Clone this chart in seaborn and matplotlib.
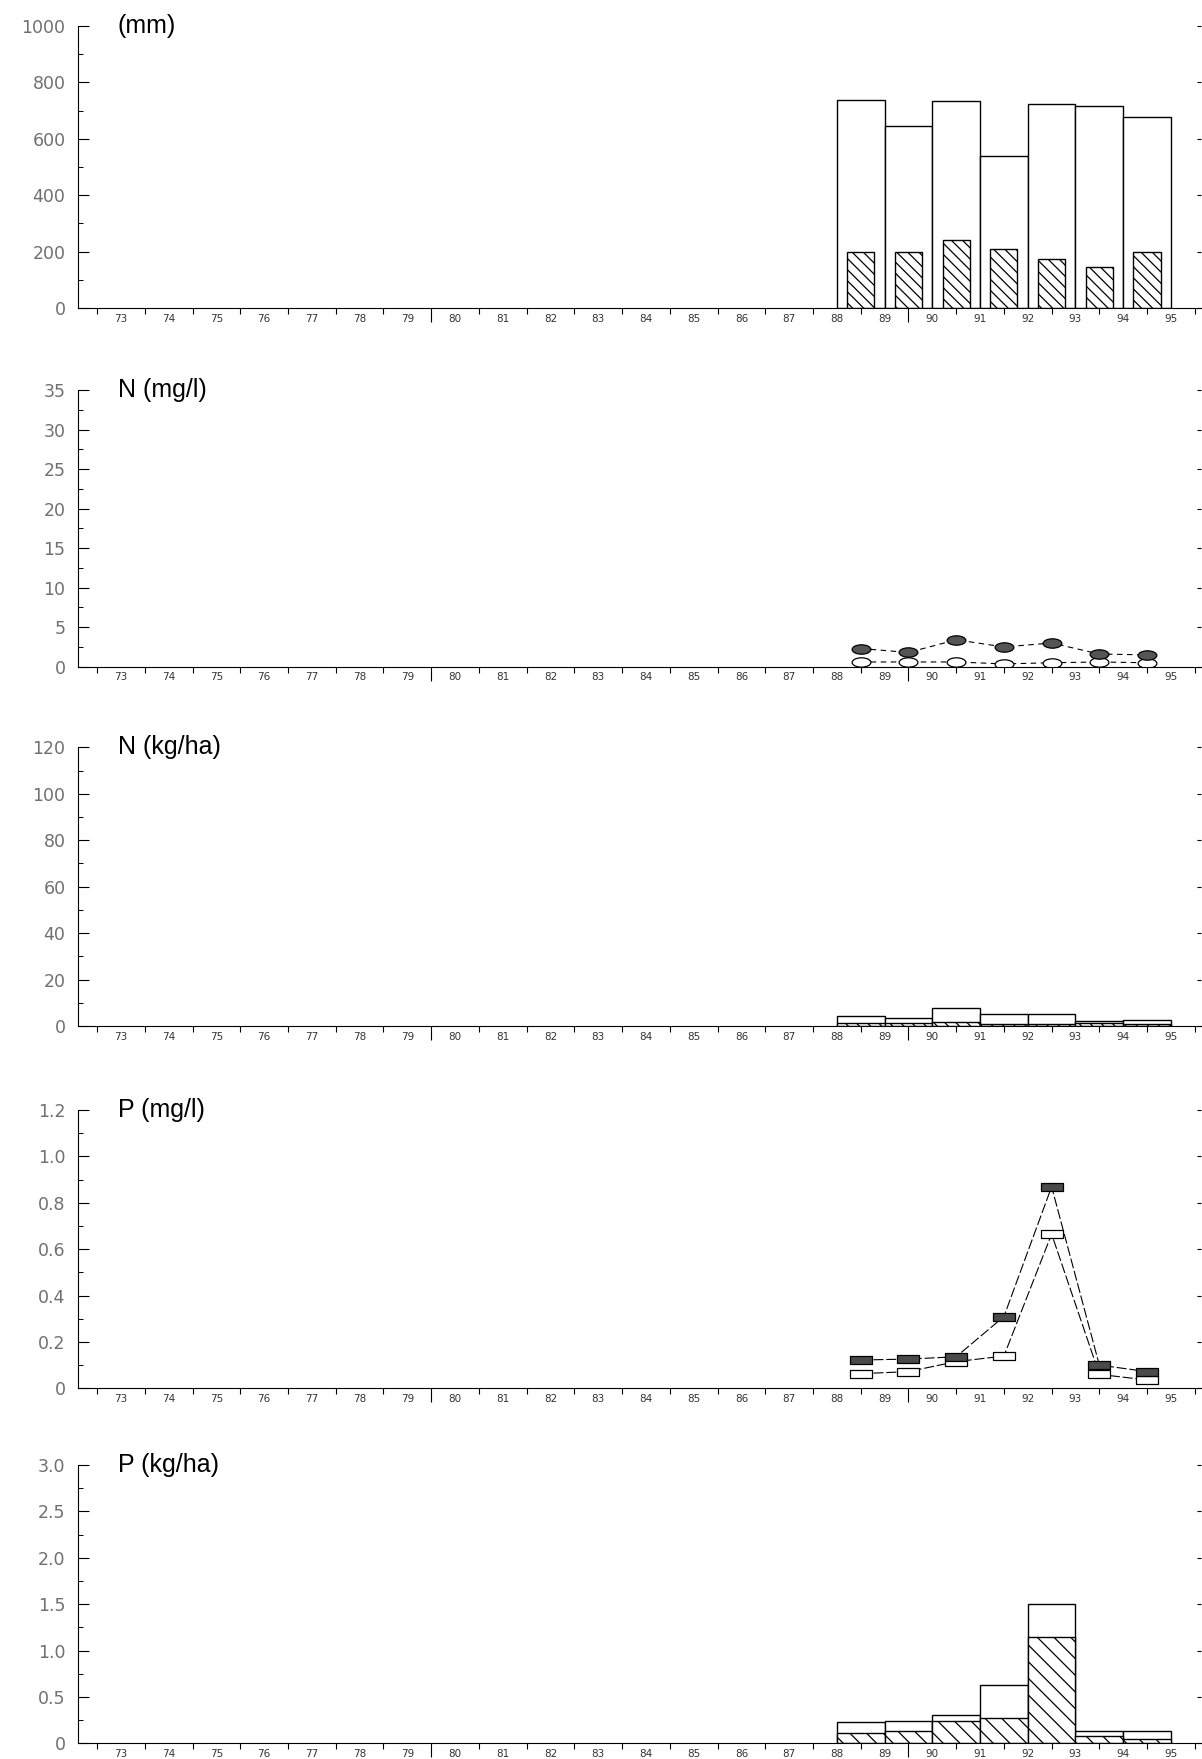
import numpy as np
import matplotlib
matplotlib.use("Agg")
import matplotlib.pyplot as plt
from matplotlib.path import Path
from matplotlib.transforms import Affine2D
from matplotlib.ticker import FixedLocator, NullFormatter, FixedFormatter
import seaborn as sns

# Hydrological years with measurements (two-digit year of start)
years = [88, 89, 90, 91, 92, 93, 94]
year_labels = [str(y) for y in range(73, 96)]

# Water balance (mm)
precip_mm = [738, 645, 735, 540, 724, 715, 676]
runoff_mm = [200, 200, 240, 208, 175, 147, 198]

# Nitrogen concentration (mg/l)
n_conc_solid = [2.3, 1.8, 3.4, 2.5, 3.0, 1.6, 1.5]
n_conc_open = [0.6, 0.6, 0.6, 0.35, 0.5, 0.6, 0.5]

# Nitrogen load (kg/ha)
n_load_open = [4.3, 3.3, 7.9, 5.0, 5.2, 2.3, 2.6]
n_load_hatched = [1.2, 1.3, 1.6, 0.7, 0.7, 1.2, 0.7]

# Phosphorus concentration (mg/l)
p_conc_solid = [0.122, 0.126, 0.136, 0.309, 0.869, 0.100, 0.072]
p_conc_open = [0.063, 0.072, 0.115, 0.139, 0.665, 0.060, 0.036]

# Phosphorus load (kg/ha)
p_load_open = [0.226, 0.237, 0.308, 0.628, 1.498, 0.133, 0.133]
p_load_hatched = [0.114, 0.129, 0.244, 0.269, 1.142, 0.082, 0.043]

sns.set_theme(style="white")
plt.rcParams["font.family"] = ["Liberation Sans", "DejaVu Sans"]
plt.rcParams["hatch.linewidth"] = 0.9

fig = plt.figure(figsize=(12.02, 17.59), dpi=100)

W, H = 1202.0, 1759.0
left = 78 / W
width = (1201 - 78) / W
# (top pixel, bottom pixel) of each panel's plotting area
panel_px = [(26, 308), (390, 666.7), (747.3, 1026), (1110, 1388.3), (1465, 1743.3)]
axes = []
for top, bot in panel_px:
    axes.append(fig.add_axes([left, 1 - bot / H, width, (bot - top) / H]))

# bar centres sit on the boundary between calendar-year labels
pos = [y + 0.5 for y in years]

ellipse = Path.unit_circle().transformed(Affine2D().scale(1.0, 0.5))
rect = Path.unit_rectangle().transformed(Affine2D().translate(-0.5, -0.5).scale(1.0, 0.4))


def style_axis(ax, top, step, labels, title):
    ax.set_xlim(72.1, 95.63)
    ax.set_ylim(0, top)
    ax.set_xlabel("")
    ax.set_ylabel("")
    for s in ("top", "right"):
        ax.spines[s].set_visible(False)
    for s in ("left", "bottom"):
        ax.spines[s].set_color("black")
        ax.spines[s].set_linewidth(0.8)

    bounds = np.arange(72.5, 96.0, 1.0)
    ax.xaxis.set_major_locator(FixedLocator(bounds))
    ax.xaxis.set_major_formatter(NullFormatter())
    ax.xaxis.set_minor_locator(FixedLocator(np.arange(73, 96)))
    ax.xaxis.set_minor_formatter(FixedFormatter(year_labels))
    ax.tick_params(axis="x", which="major", direction="out", length=4.5, width=0.8,
                   color="black", bottom=True, top=False)
    ax.tick_params(axis="x", which="minor", length=0, labelsize=7.5, pad=4,
                   labelcolor="#333333", bottom=True)
    for lab in ax.xaxis.get_minorticklabels():
        lab.set_fontfamily("DejaVu Sans")
    for t, b in zip(ax.xaxis.get_major_ticks(len(bounds)), bounds):
        if b in (79.5, 89.5):
            t.tick1line.set_markersize(10)

    yt = np.arange(0, top + step * 0.01, step)
    ax.yaxis.set_major_locator(FixedLocator(yt))
    ax.yaxis.set_major_formatter(FixedFormatter(labels))
    ax.yaxis.set_minor_locator(FixedLocator(yt[:-1] + step / 2))
    ax.tick_params(axis="y", which="major", direction="in", length=8, width=0.8,
                   color="black", left=True, right=True, labelsize=12.5,
                   labelcolor="#707070", pad=9)
    ax.tick_params(axis="y", which="minor", direction="in", length=3.5, width=0.7,
                   color="black", left=True, right=False)
    for lab in ax.yaxis.get_majorticklabels():
        lab.set_fontfamily("DejaVu Sans")
    for t in ax.yaxis.get_major_ticks(len(yt)):
        t.tick2line.set_markersize(3)

    ax.text(0.0356, 1.0, title, transform=ax.transAxes, fontsize=18,
            va="center", ha="left", color="black")


def bars(ax, vals, w, hatch=None):
    kw = dict(x=pos, y=vals, native_scale=True, width=w, color="white",
              edgecolor="black", linewidth=1.0, errorbar=None, ax=ax, orient="x")
    if hatch:
        kw["hatch"] = hatch
    sns.barplot(**kw)


def line(ax, vals, marker, size, face, dash):
    sns.lineplot(x=pos, y=vals, ax=ax, color="black", lw=0.8, linestyle=(0, dash),
                 marker=marker, markersize=size, markerfacecolor=face,
                 markeredgecolor="black", markeredgewidth=0.9)


# Panel 1: precipitation and runoff (mm)
ax = axes[0]
bars(ax, precip_mm, 1.0)
bars(ax, runoff_mm, 0.57, hatch="\\\\\\")
style_axis(ax, 1000, 200, ["0", "200", "400", "600", "800", "1000"], "(mm)")

# Panel 2: N concentration
ax = axes[1]
line(ax, n_conc_open, ellipse, 13.5, "white", (5, 4))
line(ax, n_conc_solid, ellipse, 13.5, "#555555", (5, 4))
style_axis(ax, 35, 5, ["0", "5", "10", "15", "20", "25", "30", "35"], "N (mg/l)")

# Panel 3: N load
ax = axes[2]
bars(ax, n_load_open, 1.0)
bars(ax, n_load_hatched, 1.0, hatch="\\\\\\")
style_axis(ax, 120, 20, ["0", "20", "40", "60", "80", "100", "120"], "N (kg/ha)")

# Panel 4: P concentration
ax = axes[3]
line(ax, p_conc_open, rect, 16, "white", (9, 2.5))
line(ax, p_conc_solid, rect, 16, "#4a4a4a", (9, 2.5))
style_axis(ax, 1.2, 0.2, ["0", "0.2", "0.4", "0.6", "0.8", "1.0", "1.2"], "P (mg/l)")

# Panel 5: P load
ax = axes[4]
bars(ax, p_load_open, 1.0)
bars(ax, p_load_hatched, 1.0, hatch="\\\\")
style_axis(ax, 3.0, 0.5, ["0", "0.5", "1.0", "1.5", "2.0", "2.5", "3.0"], "P (kg/ha)")

fig.savefig("out.png", dpi=100, facecolor="white")
